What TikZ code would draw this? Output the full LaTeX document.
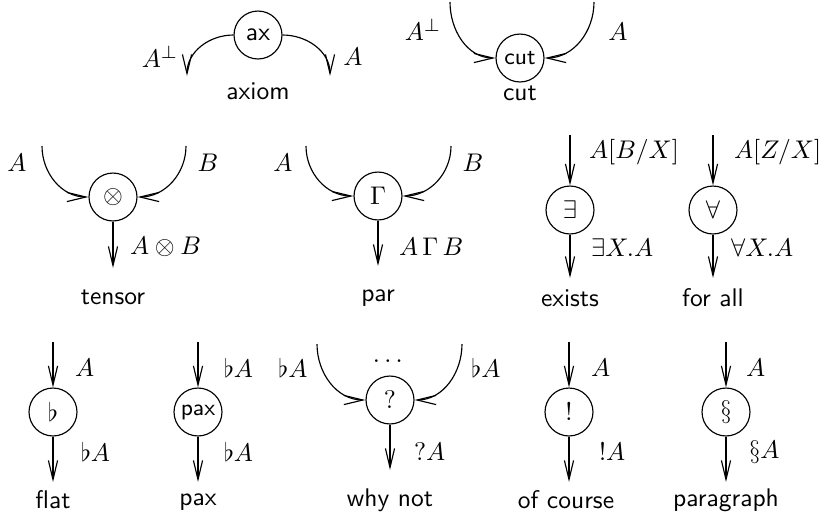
\documentclass[tikz,border=0pt]{standalone}
\usepackage{amsmath,amssymb}
\usetikzlibrary{arrows.meta}

\tikzset{
  rule/.style={draw, circle, minimum size=18.8pt, inner sep=1pt},
  wire/.style={-{Straight Barb[length=7.5pt,width=3.6pt]}},
  caption/.style={font=\sffamily},
}

\begin{document}
\begin{tikzpicture}[x=0.392pt, y=-0.392pt, line width=0.45pt]
  \useasboundingbox (0,0) rectangle (822,519);

  % axiom
  \node[rule, font=\sffamily] (ax) at (258,35) {ax};
  \coordinate (axl) at (187,76);
  \coordinate (axr) at (330,76);
  \draw[wire] (ax.west) to[out=180,in=90] (axl);
  \draw[wire] (ax.east) to[out=0,in=90] (axr);
  \node at (160,57) {$A^\perp$};
  \node at (353,57) {$A$};
  \node[caption] at (258,91) {axiom};

  % cut
  \node[rule, font=\sffamily\small] (cut) at (520,58) {cut};
  \coordinate (cutl) at (450,2);
  \coordinate (cutr) at (594,2);
  \draw[wire] (cutl) to[out=-90,in=180] (cut.west);
  \draw[wire] (cutr) to[out=-90,in=0] (cut.east);
  \node at (423,30) {$A^\perp$};
  \node at (618,32) {$A$};
  \node[caption] at (520,93) {cut};

  % tensor
  \node[rule] (ten) at (113,197) {$\otimes$};
  \coordinate (tenl) at (42,146);
  \coordinate (tenr) at (186,146);
  \coordinate (teno) at (113,268);
  \draw[wire] (tenl) to[out=-90,in=180] (ten.west);
  \draw[wire] (tenr) to[out=-90,in=0] (ten.east);
  \draw[wire] (ten) -- (teno);
  \node at (17,163) {$A$};
  \node at (208,163) {$B$};
  \node[anchor=west] at (121,247) {$A \otimes B$};
  \node[caption] at (113,297) {tensor};

  % par
  \node[rule] (par) at (378,196) {$\Gamma$};
  \coordinate (parl) at (306,146);
  \coordinate (parr) at (451,146);
  \coordinate (paro) at (378,266);
  \draw[wire] (parl) to[out=-90,in=180] (par.west);
  \draw[wire] (parr) to[out=-90,in=0] (par.east);
  \draw[wire] (par) -- (paro);
  \node at (283,163) {$A$};
  \node at (473,163) {$B$};
  \node[anchor=west] at (390,247) {$A \,\Gamma\, B$};
  \node[caption] at (378,298) {par};

  % exists
  \node[rule] (ex) at (570,210) {$\exists$};
  \coordinate (exi) at (570,135);
  \coordinate (exo) at (570,278);
  \draw[wire] (exi) -- (ex);
  \draw[wire] (ex) -- (exo);
  \node[anchor=west] at (580,152) {$A[B/X]$};
  \node[anchor=west] at (582,248) {$\exists X.A$};
  \node[caption] at (570,298) {exists};

  % for all
  \node[rule] (fa) at (713,210) {$\forall$};
  \coordinate (fai) at (713,135);
  \coordinate (fao) at (713,278);
  \draw[wire] (fai) -- (fa);
  \draw[wire] (fa) -- (fao);
  \node[anchor=west] at (725,152) {$A[Z/X]$};
  \node[anchor=west] at (722,248) {$\forall X.A$};
  \node[caption] at (713,298) {for all};

  % flat
  \node[rule] (flat) at (53,412) {$\flat$};
  \coordinate (flati) at (53,342);
  \coordinate (flato) at (53,482);
  \draw[wire] (flati) -- (flat);
  \draw[wire] (flat) -- (flato);
  \node[anchor=west] at (66,368) {$A$};
  \node[anchor=west] at (72,452) {$\flat A$};
  \node[caption] at (53,500) {flat};

  % pax
  \node[rule, font=\sffamily\small] (pax) at (198,412) {pax};
  \coordinate (paxi) at (198,342);
  \coordinate (paxo) at (198,482);
  \draw[wire] (paxi) -- (pax);
  \draw[wire] (pax) -- (paxo);
  \node[anchor=west] at (215,368) {$\flat A$};
  \node[anchor=west] at (215,452) {$\flat A$};
  \node[caption] at (198,502) {pax};

  % why not
  \node[rule] (wn) at (390,400) {$?$};
  \coordinate (wnl) at (317,344);
  \coordinate (wnr) at (462,344);
  \coordinate (wno) at (390,470);
  \draw[wire] (wnl) to[out=-90,in=180] (wn.west);
  \draw[wire] (wnr) to[out=-90,in=0] (wn.east);
  \draw[wire] (wn) -- (wno);
  \node at (390,362) {$\cdots$};
  \node at (293,368) {$\flat A$};
  \node at (486,368) {$\flat A$};
  \node[anchor=west] at (405,452) {$?A$};
  \node[caption] at (390,500) {why not};

  % of course
  \node[rule] (oc) at (569,412) {$!$};
  \coordinate (oci) at (569,342);
  \coordinate (oco) at (569,482);
  \draw[wire] (oci) -- (oc);
  \draw[wire] (oc) -- (oco);
  \node[anchor=west] at (582,368) {$A$};
  \node[anchor=west] at (590,452) {$!A$};
  \node[caption] at (566,500) {of course};

  % paragraph
  \node[rule] (pg) at (726,412) {$\S$};
  \coordinate (pgi) at (726,342);
  \coordinate (pgo) at (726,482);
  \draw[wire] (pgi) -- (pg);
  \draw[wire] (pg) -- (pgo);
  \node[anchor=west] at (737,368) {$A$};
  \node[anchor=west] at (740,452) {$\S A$};
  \node[caption] at (726,500) {paragraph};
\end{tikzpicture}
\end{document}
